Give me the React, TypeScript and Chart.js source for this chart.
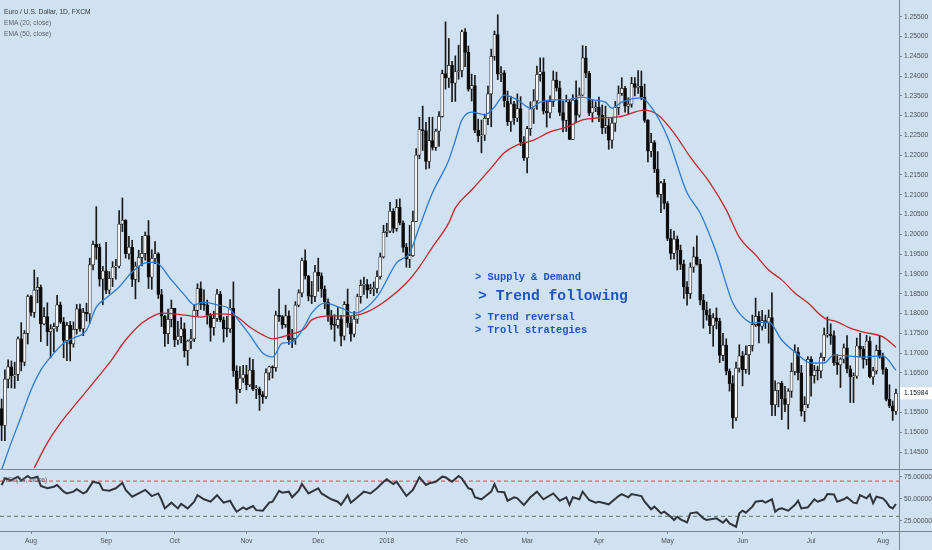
import { useEffect, useRef } from "react";
import Chart from "chart.js/auto";

type Ohlc = [number, number, number, number];

// daily EUR/USD candles, [open, high, low, close]
const jul17: Ohlc[] = [
  [1.156, 1.1584, 1.1479, 1.1517], [1.1517, 1.1658, 1.1479, 1.1634], [1.1634, 1.1683, 1.1612, 1.1665],
  [1.1665, 1.168, 1.1612, 1.1642], [1.1642, 1.1677, 1.1611, 1.1646], [1.1646, 1.1741, 1.163, 1.1736],
  [1.1736, 1.1777, 1.1655, 1.1677], [1.1677, 1.1757, 1.1668, 1.175], [1.175, 1.1847, 1.1723, 1.1843],
];
const aug17: Ohlc[] = [
  [1.1843, 1.1846, 1.1794, 1.1803], [1.1803, 1.191, 1.179, 1.1859], [1.1859, 1.1891, 1.1827, 1.1866],
  [1.1866, 1.1872, 1.1729, 1.1774], [1.1774, 1.1815, 1.1771, 1.1792], [1.1792, 1.1827, 1.1719, 1.1754],
  [1.1754, 1.1772, 1.1688, 1.1761], [1.1761, 1.1776, 1.1703, 1.1767], [1.1767, 1.1846, 1.1755, 1.1822],
  [1.1822, 1.1829, 1.1775, 1.1779], [1.1779, 1.179, 1.1688, 1.1732], [1.1732, 1.1778, 1.1681, 1.177],
  [1.177, 1.178, 1.168, 1.1723], [1.1723, 1.1779, 1.1715, 1.176], [1.176, 1.1823, 1.1748, 1.1812],
  [1.1812, 1.1824, 1.1755, 1.1761], [1.1761, 1.1813, 1.1744, 1.1803], [1.1803, 1.1826, 1.1781, 1.1799],
  [1.1799, 1.194, 1.1775, 1.1923], [1.1923, 1.1983, 1.191, 1.1975], [1.1975, 1.207, 1.1937, 1.1967],
  [1.1967, 1.1976, 1.1869, 1.1887], [1.1887, 1.1919, 1.1822, 1.1908],
];
const sep17: Ohlc[] = [
  [1.1908, 1.198, 1.185, 1.1859], [1.1859, 1.1906, 1.185, 1.1889], [1.1889, 1.1931, 1.1868, 1.1917],
  [1.1917, 1.1937, 1.1887, 1.192], [1.192, 1.206, 1.1915, 1.2026], [1.2026, 1.2092, 1.2007, 1.2036],
  [1.2036, 1.2037, 1.194, 1.1951], [1.1951, 1.1995, 1.1937, 1.1968], [1.1968, 1.1985, 1.1868, 1.1886],
  [1.1886, 1.193, 1.1837, 1.192], [1.192, 1.196, 1.188, 1.1942], [1.1942, 1.1995, 1.192, 1.1952],
  [1.1952, 1.2006, 1.1935, 1.1997], [1.1997, 1.2035, 1.1863, 1.1892], [1.1892, 1.1961, 1.1861, 1.1939],
  [1.1939, 1.1982, 1.1926, 1.1951], [1.1951, 1.1954, 1.1838, 1.1848], [1.1848, 1.1861, 1.1767, 1.1793],
  [1.1793, 1.1796, 1.1717, 1.1749], [1.1749, 1.1811, 1.1724, 1.1785], [1.1785, 1.1834, 1.1766, 1.1813],
];
const oct17: Ohlc[] = [
  [1.1813, 1.1813, 1.1716, 1.1733], [1.1733, 1.178, 1.1722, 1.1742], [1.1742, 1.179, 1.1726, 1.1761],
  [1.1761, 1.1776, 1.169, 1.1706], [1.1706, 1.1733, 1.1669, 1.173], [1.173, 1.176, 1.1711, 1.1736],
  [1.1736, 1.1822, 1.1729, 1.1808], [1.1808, 1.1875, 1.1794, 1.1863], [1.1863, 1.188, 1.181, 1.1823],
  [1.1823, 1.186, 1.1808, 1.1822], [1.1822, 1.1834, 1.1773, 1.1797], [1.1797, 1.18, 1.173, 1.1765],
  [1.1765, 1.1806, 1.1745, 1.1788], [1.1788, 1.1861, 1.178, 1.1849], [1.1849, 1.1856, 1.1779, 1.1784],
  [1.1784, 1.1791, 1.1728, 1.1762], [1.1762, 1.1793, 1.1741, 1.1761], [1.1761, 1.1835, 1.1752, 1.1814],
  [1.1814, 1.188, 1.1641, 1.1655], [1.1655, 1.1668, 1.1573, 1.1608], [1.1608, 1.1666, 1.16, 1.1637],
  [1.1637, 1.1669, 1.1626, 1.1646],
];
const nov17: Ohlc[] = [
  [1.1646, 1.1669, 1.1607, 1.162], [1.162, 1.1688, 1.1615, 1.1657], [1.1657, 1.1684, 1.1605, 1.1609],
  [1.1609, 1.1618, 1.1585, 1.1609], [1.1609, 1.1614, 1.1555, 1.1595], [1.1595, 1.1603, 1.1573, 1.159],
  [1.159, 1.166, 1.1585, 1.165], [1.165, 1.1667, 1.1632, 1.1665], [1.1665, 1.1668, 1.1637, 1.1663],
  [1.1663, 1.1806, 1.1654, 1.1796], [1.1796, 1.1862, 1.178, 1.1792], [1.1792, 1.1795, 1.1762, 1.1772],
  [1.1772, 1.1821, 1.1765, 1.1794], [1.1794, 1.1807, 1.1722, 1.1734], [1.1734, 1.176, 1.1714, 1.1737],
  [1.1737, 1.183, 1.1722, 1.1821], [1.1821, 1.186, 1.1817, 1.1852], [1.1852, 1.194, 1.1842, 1.1934],
  [1.1934, 1.1961, 1.1887, 1.1895], [1.1895, 1.1896, 1.1832, 1.1844], [1.1844, 1.1881, 1.1825, 1.1843],
  [1.1843, 1.1922, 1.183, 1.1905],
];
const dec17: Ohlc[] = [
  [1.1905, 1.194, 1.1856, 1.1895], [1.1895, 1.1903, 1.1841, 1.1862], [1.1862, 1.187, 1.1812, 1.1829],
  [1.1829, 1.1837, 1.178, 1.1795], [1.1795, 1.1808, 1.176, 1.1771], [1.1771, 1.1797, 1.173, 1.177],
  [1.177, 1.1815, 1.1763, 1.1785], [1.1785, 1.1795, 1.1718, 1.1743], [1.1743, 1.183, 1.1733, 1.1823],
  [1.1823, 1.1862, 1.1765, 1.1776], [1.1776, 1.1792, 1.173, 1.1748], [1.1748, 1.1805, 1.1741, 1.1786],
  [1.1786, 1.1849, 1.1775, 1.1843], [1.1843, 1.1885, 1.1826, 1.1871], [1.1871, 1.1892, 1.1848, 1.1873],
  [1.1873, 1.1886, 1.1839, 1.1859], [1.1859, 1.1874, 1.185, 1.1863], [1.1863, 1.188, 1.1845, 1.1863],
  [1.1863, 1.1908, 1.1852, 1.1893], [1.1893, 1.1953, 1.1887, 1.1943], [1.1943, 1.2023, 1.194, 1.2005],
];
const jan18: Ohlc[] = [
  [1.2005, 1.2028, 1.1994, 1.2008], [1.2008, 1.2081, 1.2004, 1.2059], [1.2059, 1.2065, 1.2004, 1.2015],
  [1.2015, 1.2088, 1.2008, 1.2068], [1.2068, 1.209, 1.2024, 1.2029], [1.2029, 1.2034, 1.1955, 1.1967],
  [1.1967, 1.1977, 1.1917, 1.1937], [1.1937, 1.2023, 1.1916, 1.1946], [1.1946, 1.2059, 1.1944, 1.2033],
  [1.2033, 1.2217, 1.2033, 1.22], [1.22, 1.2296, 1.2191, 1.2265], [1.2265, 1.2324, 1.2212, 1.2262],
  [1.2262, 1.2283, 1.2165, 1.2184], [1.2184, 1.2296, 1.2167, 1.2237], [1.2237, 1.2296, 1.2213, 1.222],
  [1.222, 1.2266, 1.2212, 1.2261], [1.2261, 1.231, 1.2222, 1.2298], [1.2298, 1.2415, 1.2296, 1.2406],
  [1.2406, 1.2537, 1.2367, 1.2395], [1.2395, 1.2495, 1.2371, 1.2427], [1.2427, 1.2437, 1.2335, 1.2382],
  [1.2382, 1.2451, 1.2336, 1.2411], [1.2411, 1.2478, 1.2392, 1.2414],
];
const feb18: Ohlc[] = [
  [1.2414, 1.2516, 1.2398, 1.2512], [1.2512, 1.252, 1.2424, 1.246], [1.246, 1.2476, 1.2362, 1.2367],
  [1.2367, 1.2405, 1.2337, 1.2376], [1.2376, 1.2402, 1.2257, 1.2263], [1.2263, 1.2291, 1.2234, 1.2249],
  [1.2249, 1.2289, 1.2206, 1.2251], [1.2251, 1.2304, 1.2237, 1.2293], [1.2293, 1.2375, 1.2277, 1.2355],
  [1.2355, 1.2468, 1.2272, 1.245], [1.245, 1.2514, 1.244, 1.2505], [1.2505, 1.2555, 1.2391, 1.2405],
  [1.2405, 1.2424, 1.2386, 1.2408], [1.2408, 1.2414, 1.2322, 1.2337], [1.2337, 1.2362, 1.2275, 1.2285],
  [1.2285, 1.2349, 1.226, 1.233], [1.233, 1.2336, 1.2278, 1.2294], [1.2294, 1.2355, 1.2285, 1.2318],
  [1.2318, 1.2348, 1.2224, 1.2233], [1.2233, 1.2247, 1.2187, 1.2193],
];
const mar18: Ohlc[] = [
  [1.2193, 1.2273, 1.2155, 1.2267], [1.2267, 1.2335, 1.225, 1.2317], [1.2317, 1.2366, 1.228, 1.2337],
  [1.2337, 1.2425, 1.2316, 1.2404], [1.2404, 1.2446, 1.2387, 1.2411], [1.2411, 1.2446, 1.2304, 1.2311],
  [1.2311, 1.2337, 1.2271, 1.2307], [1.2307, 1.235, 1.2294, 1.2336], [1.2336, 1.2413, 1.2323, 1.239],
  [1.239, 1.241, 1.2362, 1.237], [1.237, 1.2387, 1.23, 1.2308], [1.2308, 1.2337, 1.2259, 1.2288],
  [1.2288, 1.2352, 1.226, 1.2335], [1.2335, 1.234, 1.2239, 1.224], [1.224, 1.2353, 1.224, 1.2339],
  [1.2339, 1.2388, 1.2283, 1.2301], [1.2301, 1.237, 1.2296, 1.2352], [1.2352, 1.2477, 1.2351, 1.2446],
  [1.2446, 1.2475, 1.2396, 1.2407], [1.2407, 1.2412, 1.23, 1.2307], [1.2307, 1.234, 1.2284, 1.232],
  [1.232, 1.2335, 1.231, 1.2321],
];
const apr18: Ohlc[] = [
  [1.2321, 1.2347, 1.2285, 1.2301], [1.2301, 1.2327, 1.2254, 1.2269], [1.2269, 1.2324, 1.2255, 1.2275],
  [1.2275, 1.2292, 1.2215, 1.2238], [1.2238, 1.2295, 1.2218, 1.2281], [1.2281, 1.2336, 1.226, 1.232],
  [1.232, 1.2375, 1.2302, 1.2356], [1.2356, 1.2396, 1.2351, 1.2369], [1.2369, 1.2374, 1.2309, 1.2324],
  [1.2324, 1.2345, 1.2305, 1.2329], [1.2329, 1.2397, 1.2321, 1.2381], [1.2381, 1.2396, 1.235, 1.2371],
  [1.2371, 1.2414, 1.2356, 1.2374], [1.2374, 1.2413, 1.234, 1.2347], [1.2347, 1.238, 1.2283, 1.2288],
  [1.2288, 1.229, 1.2183, 1.221], [1.221, 1.2255, 1.2196, 1.2232], [1.2232, 1.2237, 1.2156, 1.2165],
  [1.2165, 1.2209, 1.2094, 1.2101], [1.2101, 1.2134, 1.2055, 1.213], [1.213, 1.2139, 1.2064, 1.2078],
];
const may18: Ohlc[] = [
  [1.2078, 1.2083, 1.1984, 1.199], [1.199, 1.2013, 1.1937, 1.1952], [1.1952, 1.2008, 1.1938, 1.1988],
  [1.1988, 1.1996, 1.191, 1.196], [1.196, 1.1973, 1.1911, 1.1924], [1.1924, 1.1935, 1.1838, 1.1867],
  [1.1867, 1.1881, 1.1821, 1.185], [1.185, 1.1928, 1.1838, 1.1917], [1.1917, 1.1968, 1.1904, 1.1943],
  [1.1943, 1.1996, 1.1922, 1.1924], [1.1924, 1.1937, 1.1822, 1.1834], [1.1834, 1.1848, 1.1763, 1.1809],
  [1.1809, 1.1829, 1.1783, 1.1796], [1.1796, 1.1812, 1.1749, 1.1769], [1.1769, 1.18, 1.1717, 1.1789],
  [1.1789, 1.1814, 1.1761, 1.178], [1.178, 1.1788, 1.1676, 1.1694], [1.1694, 1.175, 1.1681, 1.172],
  [1.172, 1.1736, 1.1645, 1.1654], [1.1654, 1.166, 1.1604, 1.1623], [1.1623, 1.1643, 1.151, 1.1536],
  [1.1536, 1.1677, 1.1529, 1.1662], [1.1662, 1.1721, 1.1652, 1.1693],
];
const jun18: Ohlc[] = [
  [1.1693, 1.1704, 1.1617, 1.1658], [1.1658, 1.1718, 1.1649, 1.1696], [1.1696, 1.1719, 1.1646, 1.1719],
  [1.1719, 1.1796, 1.1705, 1.1772], [1.1772, 1.1839, 1.1767, 1.1793], [1.1793, 1.1805, 1.1726, 1.1768],
  [1.1768, 1.1808, 1.1758, 1.1782], [1.1782, 1.1796, 1.1762, 1.1776], [1.1776, 1.1809, 1.1725, 1.179],
  [1.179, 1.1852, 1.1542, 1.1569], [1.1569, 1.163, 1.1542, 1.1606], [1.1606, 1.1625, 1.1564, 1.1624],
  [1.1624, 1.1629, 1.1532, 1.1585], [1.1585, 1.1616, 1.1552, 1.157], [1.157, 1.161, 1.1508, 1.1604],
  [1.1604, 1.1675, 1.1588, 1.1654], [1.1654, 1.1721, 1.1645, 1.1703], [1.1703, 1.1714, 1.1632, 1.165],
  [1.165, 1.1669, 1.1541, 1.1553], [1.1553, 1.159, 1.1527, 1.157], [1.157, 1.1691, 1.1562, 1.1684],
];
const jul18: Ohlc[] = [
  [1.1684, 1.1691, 1.1591, 1.1643], [1.1643, 1.1669, 1.1624, 1.1656], [1.1656, 1.1667, 1.1632, 1.1655],
  [1.1655, 1.17, 1.1637, 1.1689], [1.1689, 1.1763, 1.168, 1.1746], [1.1746, 1.1791, 1.174, 1.1748],
  [1.1748, 1.1774, 1.1722, 1.1744], [1.1744, 1.1756, 1.1669, 1.1676], [1.1676, 1.1696, 1.1646, 1.167],
  [1.167, 1.1688, 1.1613, 1.1685], [1.1685, 1.1723, 1.1675, 1.1713], [1.1713, 1.1744, 1.165, 1.166],
  [1.166, 1.1668, 1.1575, 1.164], [1.164, 1.165, 1.1575, 1.1642], [1.1642, 1.1738, 1.1636, 1.1718],
  [1.1718, 1.175, 1.169, 1.171], [1.171, 1.1717, 1.1662, 1.1684], [1.1684, 1.1745, 1.167, 1.173],
  [1.173, 1.1741, 1.1637, 1.164], [1.164, 1.1664, 1.1621, 1.1655], [1.1655, 1.172, 1.1647, 1.1707],
  [1.1707, 1.1743, 1.1687, 1.169],
];
const aug18: Ohlc[] = [
  [1.169, 1.17, 1.1647, 1.1659], [1.1659, 1.1663, 1.1579, 1.1583], [1.1583, 1.162, 1.1562, 1.1567],
  [1.1567, 1.1579, 1.153, 1.1553], [1.1553, 1.1609, 1.1545, 1.15984],
];

const candles: Ohlc[] = [
  ...jul17, ...aug17, ...sep17, ...oct17, ...nov17, ...dec17,
  ...jan18, ...feb18, ...mar18, ...apr18, ...may18, ...jun18, ...jul18, ...aug18,
];

// [bar index, value]
const ema20: [number, number][] = [
  [0, 1.1405], [3, 1.1475], [6, 1.154], [9, 1.1607], [12, 1.1657], [15, 1.169], [19, 1.1725], [22, 1.1738],
  [26, 1.1758], [29, 1.1816], [32, 1.1839], [36, 1.1867], [40, 1.1905], [44, 1.1928], [47, 1.193], [52, 1.1885],
  [56, 1.1847], [59, 1.1822], [62, 1.1829], [66, 1.1822], [70, 1.1811], [72, 1.1789], [76, 1.1746], [80, 1.17],
  [83, 1.169], [86, 1.1725], [89, 1.1728], [93, 1.1771], [95, 1.1801], [99, 1.1826], [104, 1.1814], [108, 1.1801],
  [115, 1.1842], [121, 1.1928], [125, 1.1953], [128, 1.2019], [132, 1.2105], [137, 1.2188], [139, 1.2238],
  [141, 1.2289], [144, 1.2309], [148, 1.2302], [151, 1.2322], [154, 1.2352], [158, 1.234], [162, 1.2319],
  [165, 1.2334], [169, 1.234], [173, 1.234], [178, 1.2347], [181, 1.234], [185, 1.2334], [187, 1.2319],
  [190, 1.2334], [196, 1.2345], [199, 1.2322], [204, 1.2246], [210, 1.2105], [214, 1.2054], [219, 1.1953],
  [224, 1.1827], [228, 1.1784], [230, 1.1776], [235, 1.1779], [239, 1.1733], [243, 1.1703], [248, 1.1675],
  [252, 1.1675], [255, 1.1695], [259, 1.1693], [264, 1.169], [270, 1.1693], [274, 1.1657],
];
const ema50: [number, number][] = [
  [10, 1.141], [14, 1.1473], [18, 1.1523], [23, 1.1574], [28, 1.1624], [33, 1.1675], [38, 1.1733], [43, 1.1776],
  [47, 1.1796], [49, 1.1801], [56, 1.1796], [61, 1.1791], [66, 1.1799], [71, 1.1796], [76, 1.1766], [80, 1.1746],
  [83, 1.1736], [88, 1.1746], [93, 1.1763], [95, 1.1784], [101, 1.1794], [107, 1.1794], [112, 1.1804],
  [118, 1.1834], [124, 1.1877], [128, 1.1918], [132, 1.1968], [137, 1.2029], [139, 1.2067], [144, 1.2112],
  [150, 1.2168], [154, 1.2206], [158, 1.2226], [163, 1.2238], [168, 1.2259], [173, 1.2271], [178, 1.2289],
  [182, 1.2294], [189, 1.2297], [197, 1.2314], [201, 1.2302], [206, 1.2256], [211, 1.2195], [217, 1.213],
  [222, 1.2062], [226, 1.1993], [231, 1.1948], [235, 1.191], [239, 1.1885], [243, 1.1852], [247, 1.1827],
  [252, 1.1789], [256, 1.1779], [260, 1.1763], [264, 1.1753], [270, 1.1741], [274, 1.1715],
];
const rsi14: [number, number][] = [
  [0, 65.6], [1, 73], [3, 71], [5, 75], [6, 70.5], [8, 75.8], [9, 73], [11, 75], [12, 64.4], [14, 61.8],
  [16, 63.6], [17, 65.6], [19, 58], [20, 56], [22, 58], [23, 60.7], [25, 56], [26, 58], [28, 69.3], [30, 67.5],
  [31, 60], [33, 59], [35, 61.8], [37, 68], [38, 60], [40, 52.3], [42, 56], [44, 60], [46, 53], [48, 56],
  [49, 48.5], [50, 39], [52, 45.5], [54, 39], [55, 44], [57, 39], [59, 46.6], [60, 54], [62, 49.3], [64, 46.6],
  [66, 54], [68, 45.5], [70, 47.7], [71, 41], [72, 35.2], [74, 40.2], [75, 38], [77, 41.7], [78, 37], [80, 36.4],
  [82, 45.5], [83, 46.6], [85, 59], [86, 56.8], [88, 58], [89, 51.6], [91, 59], [92, 66.7], [94, 56], [97, 61.8],
  [98, 56], [101, 49.3], [103, 46.6], [104, 42.8], [106, 54], [107, 45.5], [109, 51.6], [111, 58], [113, 56],
  [115, 61.8], [117, 69.3], [118, 72], [120, 66.7], [121, 69.3], [124, 53], [126, 60], [128, 74.3], [130, 65.6],
  [131, 67.5], [133, 69.3], [135, 75], [136, 74.3], [138, 69.3], [140, 75.8], [141, 73], [143, 61.8],
  [144, 60.7], [145, 51.6], [147, 49.3], [148, 52.3], [150, 58], [151, 66.7], [152, 58], [154, 57.3],
  [155, 47.7], [157, 51.6], [158, 50.4], [160, 42.8], [162, 51.6], [164, 58], [166, 49.3], [169, 56],
  [171, 47.7], [173, 51.6], [174, 42.8], [175, 51.6], [177, 49.3], [178, 58], [180, 48.5], [182, 45.5],
  [183, 46.6], [186, 43.6], [189, 53], [190, 55.3], [192, 51.6], [193, 55.3], [196, 53], [197, 46.6], [199, 38],
  [200, 41], [202, 33.4], [203, 35.2], [205, 29.5], [206, 25.8], [207, 29.5], [208, 26.6], [210, 23.2],
  [211, 33.4], [213, 34.5], [215, 27.7], [216, 25.8], [219, 27.7], [221, 22.7], [222, 26.6], [223, 22],
  [225, 18.2], [226, 33.4], [227, 36.4], [228, 34.1], [230, 41], [231, 46.6], [233, 47.7], [234, 45.5],
  [236, 49.3], [237, 35.2], [238, 38], [239, 39], [241, 36.4], [243, 42.8], [244, 47.7], [245, 39], [247, 40.2],
  [249, 49.3], [250, 46.6], [252, 49.3], [253, 55.3], [255, 54.9], [256, 46.6], [258, 49.3], [259, 51.6],
  [261, 45.5], [262, 44.9], [263, 54], [265, 50.4], [266, 54.9], [267, 44.9], [268, 52.3], [270, 50.4],
  [271, 46.6], [272, 41], [273, 39], [274, 44],
];

const monthTicks = [9, 32, 53, 75, 97, 118, 141, 161, 183, 204, 227, 248, 270];
const monthLabels = ["Aug", "Sep", "Oct", "Nov", "Dec", "2018", "Feb", "Mar", "Apr", "May", "Jun", "Jul", "Aug"];
const rsiTicks = [25, 50, 75];
const rsiUpper = 70;
const rsiLower = 30;

const BG = "#d0e1f2";
const AXIS = "#7b8794";
const TEXT = "#4a4f55";
const FONT = "'Liberation Sans', Arial, sans-serif";
const X_MIN = -0.5;
const X_MAX = 274.93;

const fixAxis = (w: number) => (s: any) => {
  s.width = w;
  s.paddingTop = 0;
  s.paddingBottom = 0;
};

const lastPrice = {
  id: "lastPrice",
  afterDraw(chart: any) {
    const { ctx, chartArea } = chart;
    const last = candles[candles.length - 1][3];
    const y = chart.scales.y.getPixelForValue(last);
    ctx.save();
    ctx.fillStyle = "#ffffff";
    ctx.fillRect(chartArea.right + 1, y - 6, chart.width - chartArea.right - 1, 12);
    ctx.fillStyle = "#111";
    ctx.font = `6.7px ${FONT}`;
    ctx.textBaseline = "middle";
    ctx.fillText(last.toFixed(5), chartArea.right + 5, y);
    ctx.restore();
  },
};

const paneFrame = {
  id: "paneFrame",
  afterDraw(chart: any) {
    const { ctx, chartArea } = chart;
    const r = Math.round(chartArea.right) + 0.5;
    const b = Math.round(chartArea.bottom) + 0.5;
    ctx.save();
    ctx.strokeStyle = AXIS;
    ctx.lineWidth = 1;
    ctx.beginPath();
    ctx.moveTo(0, 0.5);
    ctx.lineTo(chart.width, 0.5);
    ctx.moveTo(0, b);
    ctx.lineTo(chart.width, b);
    ctx.moveTo(r, 0);
    ctx.lineTo(r, chart.height);
    ctx.stroke();
    ctx.restore();
  },
};

export default function App() {
  const priceRef = useRef<HTMLCanvasElement>(null);
  const rsiRef = useRef<HTMLCanvasElement>(null);

  useEffect(() => {
    if (!priceRef.current || !rsiRef.current) return;

    const bodies = candles.map(([o, , , c], i) => ({ x: i, y: [Math.min(o, c), Math.max(o, c)] }));
    const wicks = candles.map(([, h, l], i) => ({ x: i, y: [l, h] }));
    const bodyColors = candles.map(([o, , , c]) => (c >= o ? "#f4f6f8" : "#0c0c0c"));
    const tickFont = { family: FONT, size: 6.7 };

    const price = new Chart(priceRef.current, {
      type: "bar",
      data: {
        datasets: [
          {
            type: "line",
            data: ema20.map(([x, y]) => ({ x, y })),
            borderColor: "#2b7bd0",
            borderWidth: 1.3,
            pointRadius: 0,
            cubicInterpolationMode: "monotone",
            order: 0,
          },
          {
            type: "line",
            data: ema50.map(([x, y]) => ({ x, y })),
            borderColor: "#c3262c",
            borderWidth: 1.3,
            pointRadius: 0,
            cubicInterpolationMode: "monotone",
            order: 1,
          },
          {
            type: "bar",
            data: bodies,
            backgroundColor: bodyColors,
            borderColor: "#141414",
            borderWidth: 0.7,
            borderSkipped: false,
            barThickness: 3,
            minBarLength: 1,
            grouped: false,
            order: 2,
          },
          {
            type: "bar",
            data: wicks,
            backgroundColor: "#1a1a1a",
            barThickness: 1,
            grouped: false,
            order: 3,
          },
        ],
      } as any,
      options: {
        animation: false,
        responsive: false,
        events: [],
        plugins: { legend: { display: false }, tooltip: { enabled: false } },
        scales: {
          x: { type: "linear", min: X_MIN, max: X_MAX, offset: false, display: false },
          y: {
            type: "linear",
            position: "right",
            min: 1.14071,
            max: 1.25922,
            beginAtZero: false,
            ticks: {
              stepSize: 0.005,
              includeBounds: false,
              callback: (v: any) => Number(v).toFixed(5),
              font: tickFont,
              color: TEXT,
              padding: 2,
            },
            grid: { drawOnChartArea: false, drawTicks: true, tickLength: 3, color: AXIS },
            border: { color: AXIS },
            afterFit: fixAxis(33),
          },
        },
      } as any,
      plugins: [lastPrice],
    });

    const flat = (v: number) => [{ x: X_MIN, y: v }, { x: X_MAX, y: v }];

    const rsi = new Chart(rsiRef.current, {
      type: "line",
      data: {
        datasets: [
          {
            data: rsi14.map(([x, y]) => ({ x, y })),
            borderColor: "#2f353c",
            borderWidth: 2,
            pointRadius: 0,
            order: 0,
          },
          {
            data: flat(rsiUpper),
            borderColor: "#e04848",
            borderDash: [4, 3],
            borderWidth: 1,
            pointRadius: 0,
            order: 1,
          },
          {
            data: flat(rsiLower),
            borderColor: "#5b7461",
            borderDash: [4, 3],
            borderWidth: 1,
            pointRadius: 0,
            order: 2,
          },
        ],
      } as any,
      options: {
        animation: false,
        responsive: false,
        events: [],
        layout: { padding: { top: 1 } },
        plugins: { legend: { display: false }, tooltip: { enabled: false } },
        scales: {
          x: {
            type: "linear",
            min: X_MIN,
            max: X_MAX,
            offset: false,
            afterBuildTicks: (s: any) => {
              s.ticks = monthTicks.map((value) => ({ value }));
            },
            ticks: {
              autoSkip: false,
              maxRotation: 0,
              callback: (_v: any, i: number) => monthLabels[i],
              font: tickFont,
              color: TEXT,
              padding: 3,
            },
            grid: { drawOnChartArea: false, tickLength: 3, color: AXIS },
            border: { display: false },
            afterFit: (s: any) => {
              s.height = 19;
              s.paddingLeft = 0;
              s.paddingRight = 0;
            },
          },
          y: {
            type: "linear",
            position: "right",
            min: 13.3,
            max: 82.6,
            afterBuildTicks: (s: any) => {
              s.ticks = rsiTicks.map((value) => ({ value }));
            },
            ticks: {
              callback: (v: any) => Number(v).toFixed(5),
              font: tickFont,
              color: TEXT,
              padding: 2,
            },
            grid: { drawOnChartArea: false, drawTicks: true, tickLength: 3, color: AXIS },
            border: { color: AXIS },
            afterFit: fixAxis(33),
          },
        },
      } as any,
      plugins: [paneFrame],
    });

    return () => {
      price.destroy();
      rsi.destroy();
    };
  }, []);

  const note = (size: number, left: number, top: number) => ({
    position: "absolute" as const,
    left,
    top,
    fontFamily: "'Liberation Mono', 'DejaVu Sans Mono', monospace",
    fontSize: size,
    fontWeight: 700,
    lineHeight: `${size}px`,
    color: "#1e55c3",
    whiteSpace: "pre" as const,
  });

  return (
    <div
      style={{
        position: "fixed",
        left: 0,
        top: 0,
        width: 932,
        height: 550,
        overflow: "hidden",
        background: BG,
      }}
    >
      <canvas ref={priceRef} width={932} height={469} style={{ position: "absolute", left: 0, top: 0 }} />
      <canvas ref={rsiRef} width={932} height={81} style={{ position: "absolute", left: 0, top: 469 }} />

      <div
        style={{
          position: "absolute",
          left: 4,
          top: 6,
          fontFamily: FONT,
          fontSize: 6.7,
          lineHeight: "11px",
          color: "#5d6268",
        }}
      >
        <div style={{ color: "#34383e" }}>Euro / U.S. Dollar, 1D, FXCM</div>
        <div>EMA (20, close)</div>
        <div>EMA (50, close)</div>
      </div>
      <div style={{ position: "absolute", left: 3, top: 476, fontFamily: FONT, fontSize: 6.7, color: "#5a5f65" }}>
        RSI (14, close)
      </div>

      <div style={note(10.4, 475, 271.5)}>{"> Supply & Demand"}</div>
      <div style={note(14.7, 478, 288.6)}>{"> Trend following"}</div>
      <div style={note(10.4, 475, 312)}>{"> Trend reversal"}</div>
      <div style={note(10.4, 475, 325)}>{"> Troll strategies"}</div>
    </div>
  );
}
